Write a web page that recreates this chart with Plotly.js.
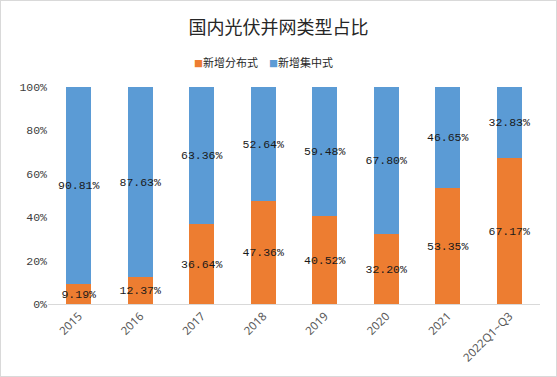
<!DOCTYPE html>
<html><head><meta charset="utf-8">
<script src="https://cdn.plot.ly/plotly-3.0.1.min.js"></script>
<style>html,body{margin:0;padding:0;background:#fff}#c{width:557px;height:377px;box-sizing:border-box;border:1px solid #d9d9d9}</style>
</head><body><div id="c"></div>
<script>
const categories = ['2015','2016','2017','2018','2019','2020','2021','2022Q1~Q3'];
const distributed = [9.19, 12.37, 36.64, 47.36, 40.52, 32.20, 53.35, 67.17];
const centralized = [90.81, 87.63, 63.36, 52.64, 59.48, 67.80, 46.65, 32.83];
const seriesNames = ['新增分布式', '新增集中式'];
const seriesColors = ['#ED7D31', '#5B9BD5'];
const yTicks = [0, 20, 40, 60, 80, 100];

const labelFont = {family: 'Liberation Mono, DejaVu Sans Mono, monospace', size: 11.5, color: '#1a1a1a'};
function barTrace(name, vals, color) {
  return {
    type: 'bar', name: name, x: categories, y: vals,
    marker: {color: color},
    text: vals.map(v => v.toFixed(2) + '%'),
    textposition: 'inside', insidetextanchor: 'middle', textangle: 0,
    constraintext: 'none', cliponaxis: false,
    insidetextfont: labelFont, textfont: labelFont,
    hoverinfo: 'none', showlegend: false
  };
}
const data = [
  barTrace(seriesNames[0], distributed, seriesColors[0]),
  barTrace(seriesNames[1], centralized, seriesColors[1])
];
const legendX = [0.362, 0.515];
const legendAnn = seriesNames.map((n, i) => ({
  xref: 'paper', yref: 'paper', x: legendX[i], y: 1.115, xanchor: 'center', yanchor: 'middle',
  showarrow: false,
  text: '<span style="color:' + seriesColors[i] + ';font-size:9px">■</span>' + n,
  font: {family: 'Noto Sans CJK SC', size: 11, color: '#262626'}
}));
const layout = {
  width: 555, height: 375,
  margin: {l: 47, r: 16, t: 86, b: 72},
  barmode: 'stack', bargap: 0.59,
  paper_bgcolor: '#fff', plot_bgcolor: '#fff',
  title: {text: '国内光伏并网类型占比', x: 0.5, xanchor: 'center', y: 0.93, yanchor: 'middle',
    font: {family: 'Noto Sans CJK SC', size: 18, color: '#262626'}},
  showlegend: false,
  annotations: legendAnn,
  xaxis: {type: 'category', showgrid: false, showline: true, linecolor: '#d9d9d9', linewidth: 1,
    ticks: '', tickangle: -45, tickfont: {family: 'Noto Sans, sans-serif', size: 11.5, color: '#595959'}},
  yaxis: {range: [0, 100], tickvals: yTicks, ticktext: yTicks.map(v => v + '%'), showgrid: false,
    zeroline: false, showline: false, ticks: '',
    tickfont: {family: 'Liberation Mono, DejaVu Sans Mono, monospace', size: 11.5, color: '#404040'}}
};
Plotly.newPlot('c', data, layout, {displayModeBar: false, staticPlot: true});
</script></body></html>
